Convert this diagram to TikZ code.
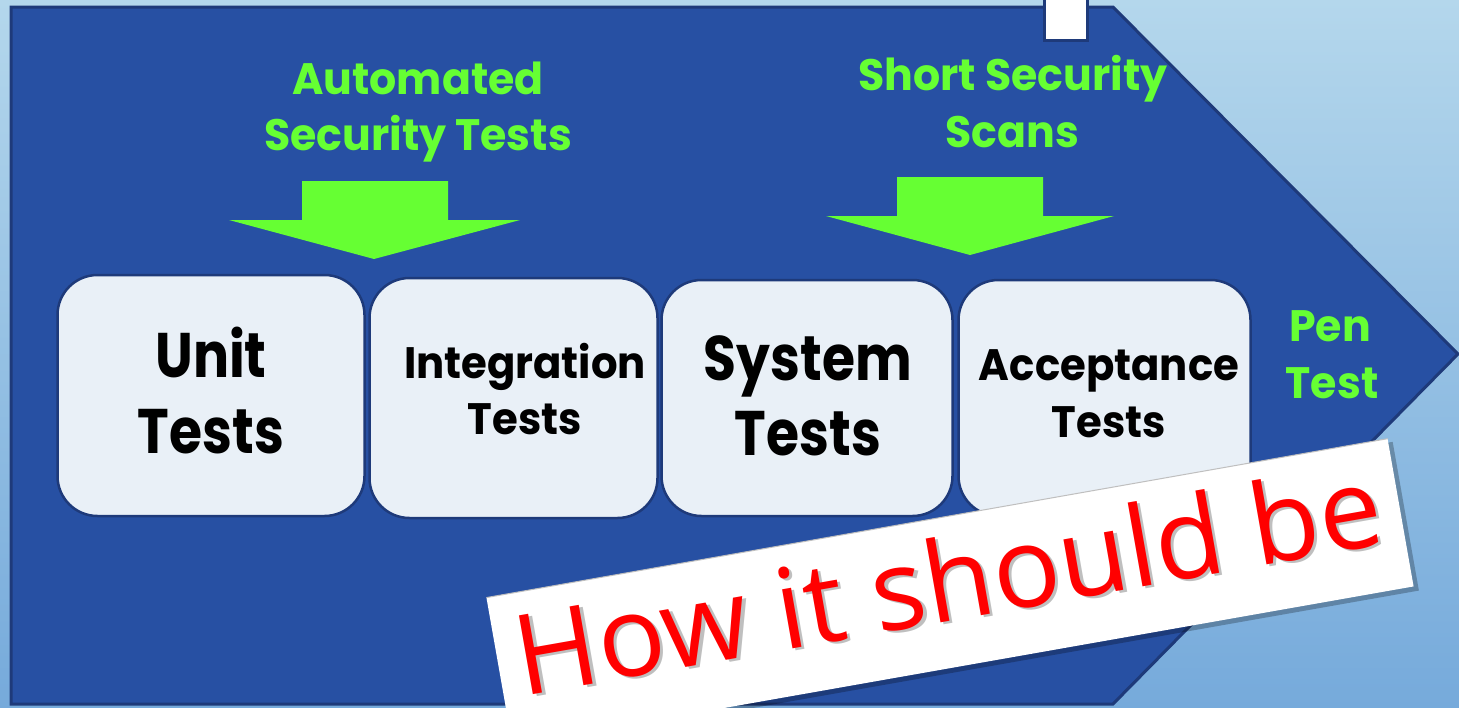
\documentclass[tikz,border=0pt]{standalone}
\usepackage{fontspec}
\newfontfamily\headfontB{Poppins}[FakeStretch=0.85]
\newfontfamily\headfontM{Poppins}[FakeStretch=0.95]
\newfontfamily\headfontG{Poppins}[FakeStretch=0.97]
\newfontfamily\notefont{Open Sans}
\definecolor{bgtop}{RGB}{180,215,236}
\definecolor{bgbot}{RGB}{118,170,219}
\definecolor{chevron}{RGB}{39,80,163}
\definecolor{edge}{RGB}{30,58,122}
\definecolor{boxfill}{RGB}{233,240,247}
\definecolor{hlgreen}{RGB}{102,255,51}
\definecolor{stamp}{RGB}{255,0,0}
\tikzset{
  testbox/.style={draw=edge, line width=2.5pt, fill=boxfill, rounded corners=40pt, inner sep=0pt},
  bigtxt/.style={font=\headfontB\bfseries\fontsize{63}{63}\selectfont, text=black, inner sep=0pt, anchor=base},
  midtxt/.style={font=\headfontM\bfseries\fontsize{44}{44}\selectfont, text=black, inner sep=0pt, anchor=base},
  greentxt/.style={font=\headfontG\bfseries\fontsize{44}{44}\selectfont, text=hlgreen, inner sep=0pt, anchor=base},
  notetxt/.style={font=\notefont\fontsize{112}{112}\selectfont, inner sep=0pt, anchor=base, rotate=10},
}
\begin{document}
\begin{tikzpicture}[x=1pt,y=-1pt]
\useasboundingbox (0,0) rectangle (1459,707);
% sky-blue backdrop
\shade[top color=bgtop, bottom color=bgbot] (0,0) rectangle (1459,707);
% large chevron
\draw[draw=edge, line width=3pt, fill=chevron, line join=miter]
  (11,7) -- (1113,7) -- (1458,354) -- (1113,704) -- (11,704) -- cycle;
% small white tab at the top edge
\draw[draw=edge, line width=3pt, fill=white] (1044,-6) rectangle (1087,40);

% green headings
\node[greentxt] (autoA) at (418,94) {Automated};
\node[greentxt] (autoB) at (418,150) {Security Tests};
\node[greentxt] (scanA) at (1013,90) {Short Security};
\node[greentxt] (scanB) at (1012,147) {Scans};
\node[greentxt] (penA) at (1330,341) {Pen};
\node[greentxt] (penB) at (1332,398) {Test};

% block arrows
\fill[hlgreen] (302,181) -- (448,181) -- (448,220) -- (520,220) -- (374,259)
  -- (229,220) -- (302,220) -- cycle;
\fill[hlgreen] (897,177) -- (1043,177) -- (1043,216) -- (1114,216) -- (970,255)
  -- (826,216) -- (897,216) -- cycle;

% test stages
\node[testbox, minimum width=307pt, minimum height=241pt] (unit) at (211,395.5) {};
\node[testbox, minimum width=288pt, minimum height=240pt] (integ) at (513.5,398) {};
\node[testbox, minimum width=291pt, minimum height=236pt] (sys) at (807,398) {};
\node[testbox, minimum width=292pt, minimum height=236pt] (accept) at (1104.5,398) {};

\node[bigtxt] (unitA) at (211,377) {Unit};
\node[bigtxt] (unitB) at (211,453) {Tests};
\node[midtxt] (integA) at (525,378) {Integration};
\node[midtxt] (integB) at (525,434) {Tests};
\node[bigtxt] (sysA) at (808,380) {System};
\node[bigtxt] (sysB) at (808,455) {Tests};
\node[midtxt] (acceptA) at (1109,380) {Acceptance};
\node[midtxt] (acceptB) at (1109,437) {Tests};

% tilted note card
\begin{scope}[shift={(950,592)}, rotate=10]
  \fill[black, opacity=0.25] (-454,-71) rectangle (462,80);
  \fill[white] (-457.5,-75) rectangle (457.5,75);
  \draw[black!25, line width=1pt] (-457.5,-75) -- (457.5,-75);
  \node[notetxt, text=black, opacity=0.25] (noteshade) at (3,31) {How it should be};
  \node[notetxt, text=stamp] (note) at (0,28.6) {How it should be};
\end{scope}
\end{tikzpicture}
\end{document}
